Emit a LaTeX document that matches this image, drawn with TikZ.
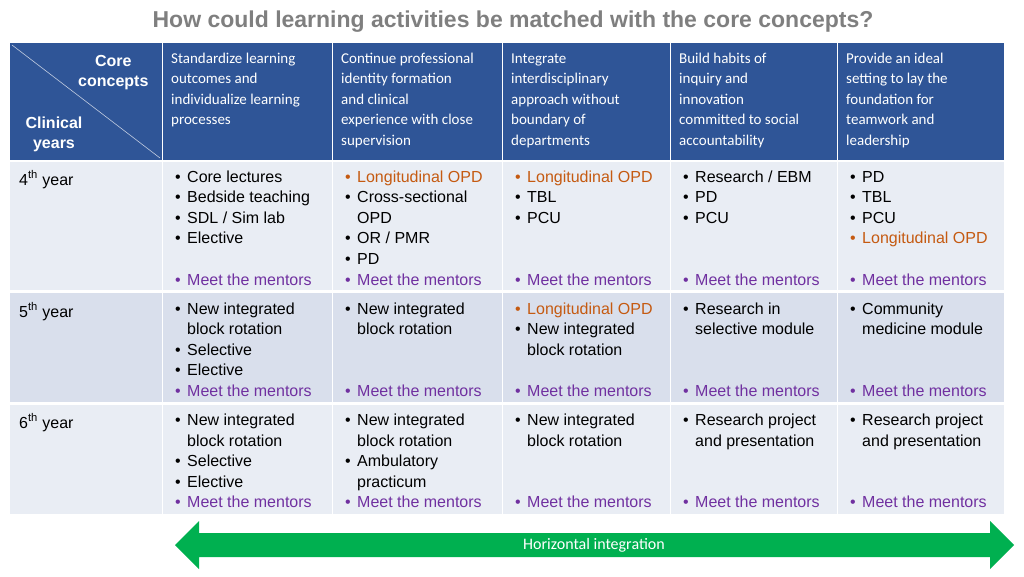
\documentclass[tikz,border=0pt]{standalone}
\usepackage{fontspec}
\setmainfont{Liberation Sans}
\newfontfamily\hdr{Carlito}
\definecolor{hblue}{HTML}{2F5597}
\definecolor{rowa}{HTML}{E9EDF4}
\definecolor{rowb}{HTML}{D9DFEC}
\definecolor{org}{HTML}{C55A11}
\definecolor{pur}{HTML}{7030A0}
\definecolor{grn}{HTML}{00B050}
\definecolor{ttl}{HTML}{7F7F7F}
\newcommand{\bl}[4]{\node[anchor=base west,text=#3,inner sep=0] at (#1+12,#2+6) {\textbullet};
 \node[anchor=base west,text=#3,inner sep=0] at (#1+24,#2+6) {#4};}
\newcommand{\ct}[3]{\node[anchor=base west,inner sep=0] at (#1+24,#2+6) {#3};}
\newcommand{\hl}[3]{\node[anchor=base west,inner sep=0,text=white,font=\hdr\fontsize{15}{18}\selectfont] at (#1+8,#2+5) {#3};}
\begin{document}
\begin{tikzpicture}[x=1pt,y=-1pt,font=\fontsize{16}{19}\selectfont]
\useasboundingbox (0,0) rectangle (1024,576);
\node[font=\bfseries\fontsize{23}{26}\selectfont,text=ttl] (title) at (513,22) {How could learning activities be matched with the core concepts?};
% header
\foreach \a/\b in {10/162,163/332,333/502,503/670,671/837,838/1004}{
 \fill[hblue] (\a,43) rectangle (\b,160);
 \fill[rowa] (\a,162) rectangle (\b,290);
 \fill[rowb] (\a,293) rectangle (\b,402);
 \fill[rowa] (\a,405) rectangle (\b,514);
}
\draw[white!70!hblue,line width=0.6] (12,45) -- (160,158);
\node[anchor=east,text=white,font=\bfseries\fontsize{16}{20}\selectfont,align=center] (cc) at (152,73) {Core\\concepts};
\node[anchor=west,text=white,font=\bfseries\fontsize{16}{20}\selectfont,align=center] (cy) at (22,134) {Clinical\\years};
\hl{163}{58}{Standardize learning}\hl{163}{78}{outcomes and}\hl{163}{99}{individualize learning}\hl{163}{119}{processes}
\hl{333}{58}{Continue professional}\hl{333}{78}{identity formation}\hl{333}{99}{and clinical}\hl{333}{119}{experience with close}\hl{333}{140}{supervision}
\hl{503}{58}{Integrate}\hl{503}{78}{interdisciplinary}\hl{503}{99}{approach without}\hl{503}{119}{boundary of}\hl{503}{140}{departments}
\hl{671}{58}{Build habits of}\hl{671}{78}{inquiry and}\hl{671}{99}{innovation}\hl{671}{119}{committed to social}\hl{671}{140}{accountability}
\hl{838}{58}{Provide an ideal}\hl{838}{78}{setting to lay the}\hl{838}{99}{foundation for}\hl{838}{119}{teamwork and}\hl{838}{140}{leadership}
% year labels
\node[anchor=base west,inner sep=0] (y4) at (19,185) {4\textsuperscript{th} year};
\node[anchor=base west,inner sep=0] (y5) at (19,317) {5\textsuperscript{th} year};
\node[anchor=base west,inner sep=0] (y6) at (19,428) {6\textsuperscript{th} year};
% row 4
\bl{163}{176}{black}{Core lectures}\bl{163}{196}{black}{Bedside teaching}\bl{163}{217}{black}{SDL / Sim lab}\bl{163}{237}{black}{Elective}\bl{163}{279}{pur}{Meet the mentors}
\bl{333}{176}{org}{Longitudinal OPD}\bl{333}{196}{black}{Cross-sectional}\ct{333}{217}{OPD}\bl{333}{237}{black}{OR / PMR}\bl{333}{258}{black}{PD}\bl{333}{279}{pur}{Meet the mentors}
\bl{503}{176}{org}{Longitudinal OPD}\bl{503}{196}{black}{TBL}\bl{503}{217}{black}{PCU}\bl{503}{279}{pur}{Meet the mentors}
\bl{671}{176}{black}{Research / EBM}\bl{671}{196}{black}{PD}\bl{671}{217}{black}{PCU}\bl{671}{279}{pur}{Meet the mentors}
\bl{838}{176}{black}{PD}\bl{838}{196}{black}{TBL}\bl{838}{217}{black}{PCU}\bl{838}{237}{org}{Longitudinal OPD}\bl{838}{279}{pur}{Meet the mentors}
% row 5
\bl{163}{308}{black}{New integrated}\ct{163}{328}{block rotation}\bl{163}{349}{black}{Selective}\bl{163}{369}{black}{Elective}\bl{163}{390}{pur}{Meet the mentors}
\bl{333}{308}{black}{New integrated}\ct{333}{328}{block rotation}\bl{333}{390}{pur}{Meet the mentors}
\bl{503}{308}{org}{Longitudinal OPD}\bl{503}{328}{black}{New integrated}\ct{503}{349}{block rotation}\bl{503}{390}{pur}{Meet the mentors}
\bl{671}{308}{black}{Research in}\ct{671}{328}{selective module}\bl{671}{390}{pur}{Meet the mentors}
\bl{838}{308}{black}{Community}\ct{838}{328}{medicine module}\bl{838}{390}{pur}{Meet the mentors}
% row 6
\bl{163}{419}{black}{New integrated}\ct{163}{440}{block rotation}\bl{163}{460}{black}{Selective}\bl{163}{481}{black}{Elective}\bl{163}{501}{pur}{Meet the mentors}
\bl{333}{419}{black}{New integrated}\ct{333}{440}{block rotation}\bl{333}{460}{black}{Ambulatory}\ct{333}{481}{practicum}\bl{333}{501}{pur}{Meet the mentors}
\bl{503}{419}{black}{New integrated}\ct{503}{440}{block rotation}\bl{503}{501}{pur}{Meet the mentors}
\bl{671}{419}{black}{Research project}\ct{671}{440}{and presentation}\bl{671}{501}{pur}{Meet the mentors}
\bl{838}{419}{black}{Research project}\ct{838}{440}{and presentation}\bl{838}{501}{pur}{Meet the mentors}
% arrow
\fill[grn] (175,545) -- (199,521) -- (199,533) -- (990,533) -- (990,521) -- (1014,545) -- (990,569) -- (990,557) -- (199,557) -- (199,569) -- cycle;
\node[text=white,font=\hdr\fontsize{16}{19}\selectfont] (hi) at (594,545) {Horizontal integration};
\end{tikzpicture}
\end{document}
